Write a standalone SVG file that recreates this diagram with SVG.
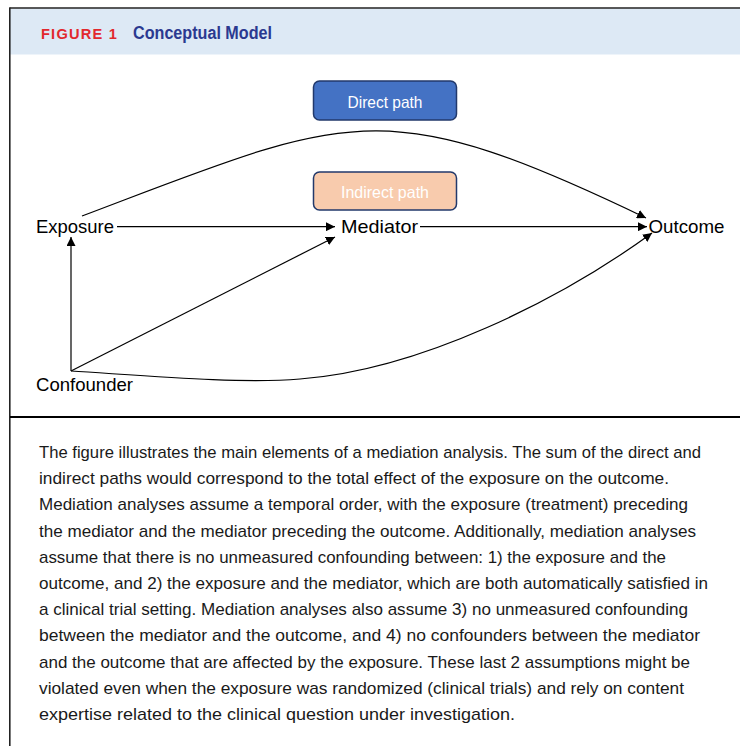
<svg xmlns="http://www.w3.org/2000/svg" width="740" height="746" viewBox="0 0 740 746">
<defs>
<style>
.lbl{font-family:"Liberation Sans",Arial,sans-serif;font-size:19px;fill:#000}
.btxt{font-family:"Liberation Sans",Arial,sans-serif;font-size:16.5px;fill:#ffffff;text-anchor:middle}
.body{font-family:"Liberation Sans",Arial,sans-serif;font-size:17px;fill:#1a1a1a}
.edge{fill:none;stroke:#000;stroke-width:1.2}
</style>
<marker id="ah" viewBox="0 0 10 10" refX="10" refY="5" markerWidth="9" markerHeight="9" markerUnits="userSpaceOnUse" orient="auto">
<path d="M0,0 L10,5 L0,10 z" fill="#000"/>
</marker>
</defs>
<rect x="0" y="0" width="740" height="746" fill="#fff"/>
<g id="frame">
<rect x="10" y="8.5" width="730" height="46" fill="#dde9f5"/>
<line x1="9.5" y1="8" x2="740" y2="8" stroke="#222" stroke-width="1.6"/>
<line x1="9.8" y1="7.5" x2="9.8" y2="746" stroke="#222" stroke-width="1.6"/>
<line x1="10" y1="417" x2="740" y2="417" stroke="#000" stroke-width="2.2"/>
</g>
<g id="header">
<text x="41" y="39" font-family="'Liberation Sans',Arial,sans-serif" font-weight="bold" font-size="14.5" fill="#e2282e" letter-spacing="1.2" textLength="77" lengthAdjust="spacingAndGlyphs">FIGURE 1</text>
<text x="133" y="39" font-family="'Liberation Sans',Arial,sans-serif" font-weight="bold" font-size="17.5" fill="#2b3990" textLength="139" lengthAdjust="spacingAndGlyphs">Conceptual Model</text>
</g>
<g id="connectors">
<path class="edge" d="M82,216 C349,115 380,90 646,218" marker-end="url(#ah)"/>
<line class="edge" x1="117" y1="226.7" x2="335" y2="226.7" marker-end="url(#ah)"/>
<line class="edge" x1="420" y1="226.7" x2="647" y2="226.7" marker-end="url(#ah)"/>
<line class="edge" x1="71" y1="371" x2="71" y2="237" marker-end="url(#ah)"/>
<line class="edge" x1="71" y1="371" x2="335" y2="237" marker-end="url(#ah)"/>
<path class="edge" d="M71,371 C150,376 240,384 300,379 C420,370 560,300 652,233" marker-end="url(#ah)"/>
</g>
<g id="direct-path">
<rect x="313.5" y="81" width="143" height="39" rx="6" fill="#4472c4" stroke="#22396b" stroke-width="1.5"/>
<text class="btxt" x="385" y="108" textLength="75" lengthAdjust="spacingAndGlyphs">Direct path</text>
</g>
<g id="indirect-path">
<rect x="313.5" y="172" width="143" height="38" rx="6" fill="#f8cbad" stroke="#22396b" stroke-width="1.5"/>
<text class="btxt" x="385" y="198" textLength="88" lengthAdjust="spacingAndGlyphs">Indirect path</text>
</g>
<g id="exposure"><text class="lbl" x="36" y="233" textLength="78" lengthAdjust="spacingAndGlyphs">Exposure</text></g>
<g id="mediator"><text class="lbl" x="341" y="233" textLength="77" lengthAdjust="spacingAndGlyphs">Mediator</text></g>
<g id="outcome"><text class="lbl" x="648.5" y="233" textLength="76" lengthAdjust="spacingAndGlyphs">Outcome</text></g>
<g id="confounder"><text class="lbl" x="36" y="391" textLength="97" lengthAdjust="spacingAndGlyphs">Confounder</text></g>
<g id="caption">
<text class="body" x="39" y="458" textLength="662" lengthAdjust="spacingAndGlyphs">The figure illustrates the main elements of a mediation analysis. The sum of the direct and</text>
<text class="body" x="39" y="484.2" textLength="630" lengthAdjust="spacingAndGlyphs">indirect paths would correspond to the total effect of the exposure on the outcome.</text>
<text class="body" x="39" y="510.4" textLength="649" lengthAdjust="spacingAndGlyphs">Mediation analyses assume a temporal order, with the exposure (treatment) preceding</text>
<text class="body" x="39" y="536.6" textLength="657" lengthAdjust="spacingAndGlyphs">the mediator and the mediator preceding the outcome. Additionally, mediation analyses</text>
<text class="body" x="39" y="562.8" textLength="627" lengthAdjust="spacingAndGlyphs">assume that there is no unmeasured confounding between: 1) the exposure and the</text>
<text class="body" x="39" y="589" textLength="669" lengthAdjust="spacingAndGlyphs">outcome, and 2) the exposure and the mediator, which are both automatically satisfied in</text>
<text class="body" x="39" y="615.2" textLength="649" lengthAdjust="spacingAndGlyphs">a clinical trial setting. Mediation analyses also assume 3) no unmeasured confounding</text>
<text class="body" x="39" y="641.4" textLength="661" lengthAdjust="spacingAndGlyphs">between the mediator and the outcome, and 4) no confounders between the mediator</text>
<text class="body" x="39" y="667.6" textLength="651" lengthAdjust="spacingAndGlyphs">and the outcome that are affected by the exposure. These last 2 assumptions might be</text>
<text class="body" x="39" y="693.8" textLength="645" lengthAdjust="spacingAndGlyphs">violated even when the exposure was randomized (clinical trials) and rely on content</text>
<text class="body" x="39" y="720" textLength="476" lengthAdjust="spacingAndGlyphs">expertise related to the clinical question under investigation.</text>
</g>
</svg>
